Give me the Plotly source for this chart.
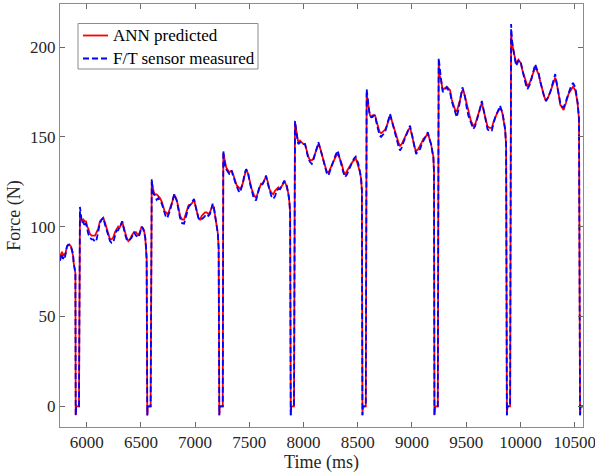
import plotly.graph_objects as go

# Time stamps (ms) shared by both force traces
time_ms = [
    5754, 5763, 5772, 5782, 5791, 5800, 5809, 5818, 5827, 5841, 5855, 5864, 5874, 5880, 5887, 5896,
    5899, 5903, 5927,
    5929, 5938, 5945, 5957, 5969, 5982, 5994, 6005, 6015, 6030, 6045, 6061, 6077, 6092, 6107, 6122,
    6138, 6153, 6170, 6185, 6200, 6215, 6230, 6245, 6261, 6277, 6290, 6301, 6315, 6328, 6340, 6353,
    6368, 6384, 6400, 6415, 6436, 6455, 6476, 6490, 6507, 6520, 6529, 6540, 6547, 6553,
    6559, 6564, 6588,
    6590, 6600, 6609, 6620, 6630, 6645, 6661, 6676, 6692, 6707, 6722, 6733, 6744, 6756, 6769, 6790,
    6808, 6820, 6830, 6845, 6861, 6880, 6898, 6913, 6928, 6940, 6953, 6970, 6990, 7002, 7015, 7030,
    7045, 7060, 7076, 7092, 7107, 7122, 7137, 7150, 7162, 7172, 7184, 7192, 7199, 7210, 7217,
    7223, 7227, 7253,
    7255, 7260, 7268, 7276, 7287, 7297, 7306, 7315, 7326, 7338, 7346, 7352, 7368, 7384, 7400, 7414,
    7426, 7439, 7455, 7470, 7480, 7491, 7506, 7522, 7540, 7562, 7577, 7592, 7608, 7624, 7640, 7654,
    7670, 7685, 7703, 7721, 7737, 7753, 7768, 7783, 7800, 7823, 7835, 7845, 7858, 7869, 7876,
    7882, 7886, 7910,
    7912, 7921, 7929, 7937, 7945, 7952, 7967, 7983, 8000, 8014, 8030, 8044, 8060, 8076, 8090, 8106,
    8122, 8137, 8152, 8168, 8184, 8198, 8213, 8229, 8250, 8275, 8296, 8315, 8333, 8352, 8368, 8383,
    8400, 8420, 8435, 8450, 8465, 8481, 8493, 8505, 8518, 8530, 8538,
    8543, 8547, 8572,
    8574, 8582, 8590, 8598, 8606, 8613, 8624, 8635, 8648, 8660, 8672, 8685, 8700, 8715, 8733, 8752,
    8767, 8782, 8798, 8814, 8829, 8845, 8860, 8875, 8890, 8905, 8921, 8936, 8952, 8967, 8982, 8993,
    9004, 9020, 9038, 9055, 9075, 9090, 9105, 9125, 9146, 9160, 9176, 9190, 9197, 9203,
    9207, 9211, 9236,
    9238, 9246, 9256, 9266, 9275, 9284, 9300, 9321, 9336, 9351, 9366, 9382, 9398, 9413, 9428, 9444,
    9455, 9465, 9478, 9490, 9505, 9520, 9543, 9566, 9582, 9598, 9620, 9644, 9656, 9668, 9682, 9696,
    9716, 9736, 9750, 9767, 9790, 9813, 9824, 9834, 9847, 9859, 9868,
    9875, 9879, 9903,
    9905, 9914, 9922, 9936, 9948, 9960, 9971, 9982, 9993, 10004, 10019, 10034, 10050, 10065, 10085,
    10105, 10120, 10136, 10150, 10167, 10182, 10198, 10217, 10235, 10255, 10275, 10298, 10321, 10331,
    10342, 10355, 10367, 10383, 10398, 10420, 10444, 10465, 10485, 10496, 10506, 10518, 10528, 10540,
    10550, 10554, 10577,
]

# Force measured by the F/T sensor (N)
ft_measured = [
    81, 83, 85, 82, 84, 83, 87, 89, 89.5, 90, 89, 87, 85, 80, 77, 74,
    -5, 0, 0,
    0, 111, 106, 102, 103, 100, 102, 98, 96, 94, 93, 93, 91.5, 93, 97, 102,
    104, 105, 101, 98, 94, 92, 91, 91, 95, 98, 98, 99, 101, 103, 99, 96,
    93, 92, 93, 94, 97, 95, 94, 96, 100, 99, 97, 94, 89, 82,
    -5, 0, 0,
    0, 126.7, 120, 118, 117.4, 115, 116, 114, 113, 110, 107, 105, 105, 107, 109, 114,
    118.3, 116, 114.6, 110, 105, 102, 101.7, 105, 109, 111, 112, 114, 115.5, 112, 109, 105,
    103.5, 104, 105, 106, 107, 106, 107, 110, 112.8, 111, 107, 104, 101.7, 96, 88,
    -5, 0, 0,
    0, 142.4, 137, 134, 132, 131, 130, 129.4, 130, 131.3, 129, 128.5, 125, 122, 120, 119,
    121, 124, 129, 132, 131, 129.4, 124, 120, 116, 114.6, 118, 122, 123, 124, 126, 128.5,
    124, 120, 117, 115.5, 117, 120, 121, 121, 123, 125.7, 124, 123, 119, 114.6, 108,
    -5, 0, 0,
    0, 159, 154, 150.7, 148, 146, 147, 147, 146, 146, 142, 137.8, 136, 135, 137, 140.5,
    144, 147, 144, 140.5, 137, 133, 130, 128.5, 132, 137, 140, 142.4, 138, 135, 130, 127.6,
    129, 132, 134, 137, 138, 139, 137, 135, 131, 127.6, 120,
    -5, 0, 0,
    0, 176.7, 170, 168, 164, 162, 161, 161, 162, 162, 158, 154.4, 151, 150, 151, 152.6,
    156, 159, 162.8, 159, 155.3, 151, 148, 145, 142.4, 144, 147, 149, 151.7, 154, 156.3, 153,
    150, 145, 140.5, 142, 143.3, 146, 148, 150, 152.6, 149, 146, 141, 139.6, 130,
    -5, 0, 0,
    0, 194, 186, 183, 179, 175, 176, 177.6, 176, 175, 170, 166.4, 163, 161, 165, 170,
    174, 177.6, 175, 172, 166, 161.8, 158, 154.4, 156, 159, 164, 170, 166, 162.8, 158, 154.4,
    153, 153.5, 157, 161, 164, 167.4, 165, 163.7, 159, 154.4, 145,
    -5, 0, 0,
    0, 212.8, 204, 198, 193, 189.6, 191, 192.4, 191, 191.4, 187, 183, 179, 176.7, 179,
    183, 187, 190.5, 188, 186, 181, 176.7, 173, 170, 172, 175, 180, 185, 181,
    177.6, 173, 169, 167, 166.4, 170, 175, 178, 180, 179, 177.6, 173, 169, 160,
    -5, 0, 0,
]

# Force predicted by the ANN (N)
ann_predicted = [
    83, 85, 86, 84, 85, 84, 87, 89, 90, 90, 89, 87, 84, 80, 77, 74,
    -5, 0, 0,
    0, 108, 105, 103, 104, 103, 103, 100, 99, 96, 95, 95, 95, 97, 99, 103,
    104, 105, 102, 99, 95, 93, 93, 94, 97, 99, 100, 99, 101, 103, 100, 97,
    94, 92, 93, 95, 97, 97, 95, 97, 100, 99, 98, 94, 89, 82,
    -5, 0, 0,
    0, 125, 121, 119, 118, 118, 117, 116, 114, 111, 108, 108, 107, 108, 110, 114,
    118, 116, 115, 111, 106, 104, 104, 107, 110, 112, 112, 113, 115, 112, 109, 105,
    104, 106, 107, 108, 108, 107, 108, 110, 112, 111, 107, 104, 101.7, 96, 88,
    -5, 0, 0,
    0, 141, 138, 135, 133, 132, 131, 130, 131, 131, 130, 129, 126, 123, 122, 121,
    122, 124, 128, 132, 131, 129, 125, 121, 118, 116, 119, 122, 124, 124, 126, 128,
    125, 121, 119, 118, 120, 121, 122, 121, 123, 125, 124, 122, 119, 114, 108,
    -5, 0, 0,
    0, 158, 154, 151, 149, 147, 148, 147, 146, 146, 142, 139, 137, 137, 138, 141,
    144, 146, 144, 141, 137, 134, 131, 130, 133, 137, 139, 141, 138, 135, 131, 129,
    131, 133, 135, 136, 137, 138, 136, 134, 131, 127, 120,
    -5, 0, 0,
    0, 174, 170, 167, 164, 162, 161, 162, 162, 162, 159, 156, 153, 152, 153, 154,
    156, 159, 162, 159, 156, 152, 150, 147, 145, 146, 148, 150, 152, 154, 155, 153,
    150, 145, 142, 143, 145, 147, 149, 150, 152, 149, 146, 141, 139, 130,
    -5, 0, 0,
    0, 190.5, 184, 182, 179, 176, 177, 178, 177, 176, 171, 168, 165, 164, 167, 171,
    174, 176, 175, 172, 167, 163, 159, 156, 157, 160, 164, 169, 166, 163, 159, 156,
    155, 155, 158, 161, 164, 166, 165, 163, 159, 154, 145,
    -5, 0, 0,
    0, 208, 202, 198, 194, 191, 192, 193, 192, 191, 187, 184, 180, 178, 180,
    183, 186, 189, 187, 185, 181, 177, 173, 170, 172, 175, 179, 183, 181,
    178, 173, 168, 166, 165, 169, 174, 176, 178, 177, 176, 172, 168, 160,
    -5, 0, 0,
]

x_ticks = [6000, 6500, 7000, 7500, 8000, 8500, 9000, 9500, 10000, 10500]
y_ticks = [0, 50, 100, 150, 200]

series_names = ["ANN predicted", "F/T sensor measured"]
series_colors = ["#ff0000", "#0000ff"]
series_dashes = ["solid", "6px,3px"]

font_family = "Liberation Serif, Times New Roman, serif"
text_color = "#262626"
frame_color = "#8c8c8c"
line_width = 1.8

fig = go.Figure()
for name, values, color, dash in zip(series_names, [ann_predicted, ft_measured],
                                     series_colors, series_dashes):
    fig.add_trace(go.Scatter(
        x=time_ms, y=values, mode="lines", name=name, showlegend=False,
        line=dict(color=color, width=line_width, dash=dash),
    ))

axis_common = dict(
    showline=True, linecolor=frame_color, linewidth=1, mirror="allticks",
    ticks="inside", ticklen=5, tickcolor="#6a6a6a", tickwidth=1,
    showgrid=False, zeroline=False, automargin=False,
    ticklabeloverflow="allow",
    tickfont=dict(family=font_family, size=17, color=text_color),
)

# Plot-area geometry in pixels, used to place the legend box
W, H = 595, 474
ML, MR, MT, MB = 60, 12, 4, 47
PW, PH = W - ML - MR, H - MT - MB


def px(x):
    return (x - ML) / PW


def py(y):
    return (H - MB - y) / PH


# Legend drawn as a framed box with line samples and labels
shapes = [dict(
    type="rect", xref="paper", yref="paper",
    x0=px(78), x1=px(258), y0=py(69), y1=py(23.5),
    line=dict(color=frame_color, width=1), fillcolor="white", layer="above",
)]
annotations = []
for i, (name, color, dash) in enumerate(zip(series_names, series_colors, series_dashes)):
    row_y = 35.5 + i * 23
    shapes.append(dict(
        type="line", xref="paper", yref="paper",
        x0=px(83), x1=px(108), y0=py(row_y), y1=py(row_y),
        line=dict(color=color, width=line_width, dash=dash), layer="above",
    ))
    annotations.append(dict(
        xref="paper", yref="paper", x=px(111), y=py(row_y),
        xanchor="left", yanchor="middle", showarrow=False,
        text=name, font=dict(family=font_family, size=17, color="#000000"),
    ))

fig.update_layout(
    width=W, height=H,
    margin=dict(l=ML, r=MR, t=MT, b=MB),
    paper_bgcolor="white", plot_bgcolor="white",
    font=dict(family=font_family, color=text_color),
    xaxis=dict(
        range=[5754, 10577], tickvals=x_ticks,
        ticktext=[str(v) for v in x_ticks],
        title=dict(text="Time (ms)", font=dict(family=font_family, size=18, color=text_color),
                   standoff=2),
        **axis_common,
    ),
    yaxis=dict(
        range=[-11.5, 224], tickvals=y_ticks,
        ticktext=[str(v) for v in y_ticks],
        title=dict(text="Force (N)", font=dict(family=font_family, size=18, color=text_color),
                   standoff=4),
        **axis_common,
    ),
    shapes=shapes,
    annotations=annotations,
    showlegend=False,
)

fig.write_html("out.html")
